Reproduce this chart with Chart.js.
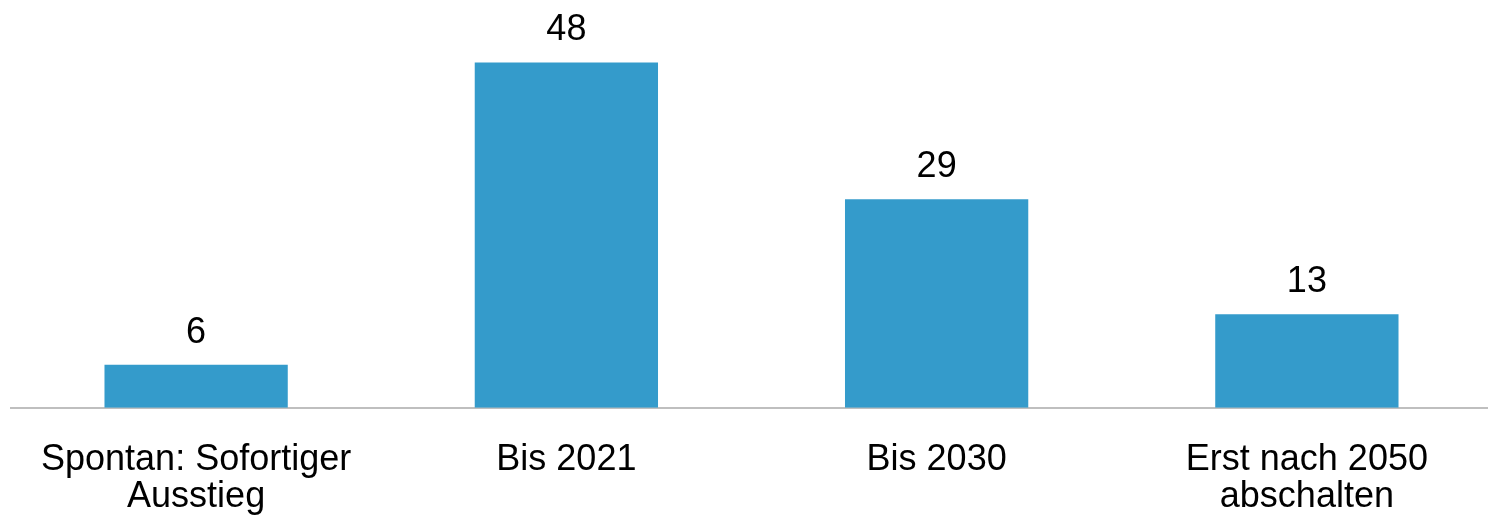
<!DOCTYPE html>
<html>
<head>
<meta charset="utf-8">
<script src="https://cdn.jsdelivr.net/npm/chart.js@4"></script>
<style>
    html, body { margin: 0; padding: 0; background: #fff; overflow: hidden; }
    #wrap { width: 1492px; height: 550px; position: relative; }
</style>
</head>
<body>
<div id="wrap"><canvas id="grafico"></canvas></div>
<script>
// Dados do gráfico
const categorias = [
    ['Spontan: Sofortiger', 'Ausstieg'],
    'Bis 2021',
    'Bis 2030',
    ['Erst nach 2050', 'abschalten']
];
const valores = [6, 48, 29, 13];

const corBarra = '#349BCB';
const fonte = '"Liberation Sans", Arial, sans-serif';

// Rótulos de valor acima das barras
const rotulosPlugin = {
    id: 'rotulos',
    afterDatasetsDraw(chart) {
        const ctx = chart.ctx;
        const meta = chart.getDatasetMeta(0);
        ctx.save();
        ctx.font = '36px ' + fonte;
        ctx.fillStyle = '#000';
        ctx.textAlign = 'center';
        ctx.textBaseline = 'alphabetic';
        meta.data.forEach((bar, i) => {
            ctx.fillText(String(valores[i]), bar.x, bar.y - 22);
        });
        ctx.restore();
    }
};

const ctx = document.getElementById('grafico').getContext('2d');
const chart = new Chart(ctx, {
    type: 'bar',
    data: {
        labels: categorias,
        datasets: [{
            data: valores,
            backgroundColor: corBarra,
            borderWidth: 0,
            categoryPercentage: 1.0,
            barPercentage: 0.495
        }]
    },
    options: {
        responsive: true,
        maintainAspectRatio: false,
        animation: false,
        layout: {
            padding: { left: 11, right: 0, top: 48, bottom: 8 }
        },
        plugins: {
            legend: { display: false },
            tooltip: { enabled: false }
        },
        scales: {
            x: {
                grid: { display: false },
                border: { display: true, color: '#BFBFBF', width: 2 },
                ticks: {
                    color: '#000',
                    padding: 26,
                    maxRotation: 0,
                    autoSkip: false,
                    font: { family: fonte, size: 36, lineHeight: 1.03 }
                }
            },
            y: {
                display: false,
                min: 0,
                max: 50
            }
        }
    },
    plugins: [rotulosPlugin]
});
</script>
</body>
</html>
